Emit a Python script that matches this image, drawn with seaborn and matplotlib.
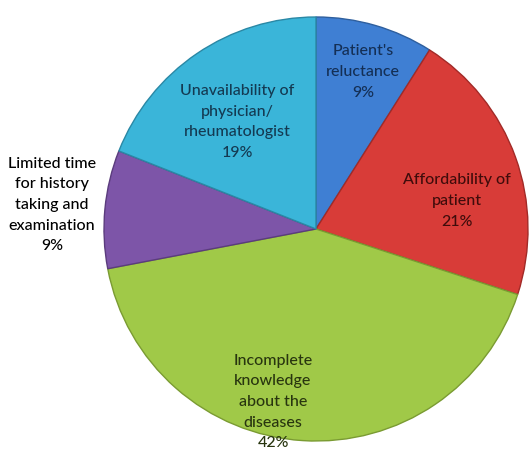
import matplotlib
matplotlib.use("Agg")
import matplotlib.pyplot as plt
import seaborn as sns

categories = [
    "Patient's\nreluctance",
    "Affordability of\npatient",
    "Incomplete\nknowledge\nabout the\ndiseases",
    "Limited time\nfor history\ntaking and\nexamination",
    "Unavailability of\nphysician/\nrheumatologist",
]
values = [9, 21, 42, 9, 19]

colors = ["#3f7fd3", "#d83c38", "#a0c948", "#7d55a8", "#3ab5d9"]
edge_colors = ["#2e5f9e", "#a22a27", "#7a9b32", "#5b3c7d", "#2a88a5"]
text_colors = ["#142f55", "#3f0c0b", "#28350f", "#000000", "#143a52"]
# label anchor (pixel coords from top-left, centre of text block)
label_pos = [(363, 72), (457, 201), (273, 402), (52, 205), (237, 122)]

sns.set_theme(style="white")
plt.rcParams["font.family"] = ["Lato", "DejaVu Sans"]

W, H = 529, 451
fig = plt.figure(figsize=(W / 100, H / 100), dpi=100)
ax = fig.add_axes([0, 0, 1, 1])

cx, cy, r = 316, H - 229, 212
wedges, _ = ax.pie(values, startangle=90, counterclock=False, colors=colors,
                   center=(cx, cy), radius=r, frame=True,
                   wedgeprops=dict(linewidth=1.0))
for w, ec in zip(wedges, edge_colors):
    w.set_edgecolor(ec)
ax.set_xlim(0, W)
ax.set_ylim(0, H)
ax.set_aspect("equal")
ax.axis("off")

for cat, v, (px, py), tc in zip(categories, values, label_pos, text_colors):
    ax.text(px, H - py, f"{cat}\n{v}%", ha="center", va="center",
            color=tc, fontsize=11.5, linespacing=1.6, fontweight="medium")

fig.savefig("out.png", dpi=100)
